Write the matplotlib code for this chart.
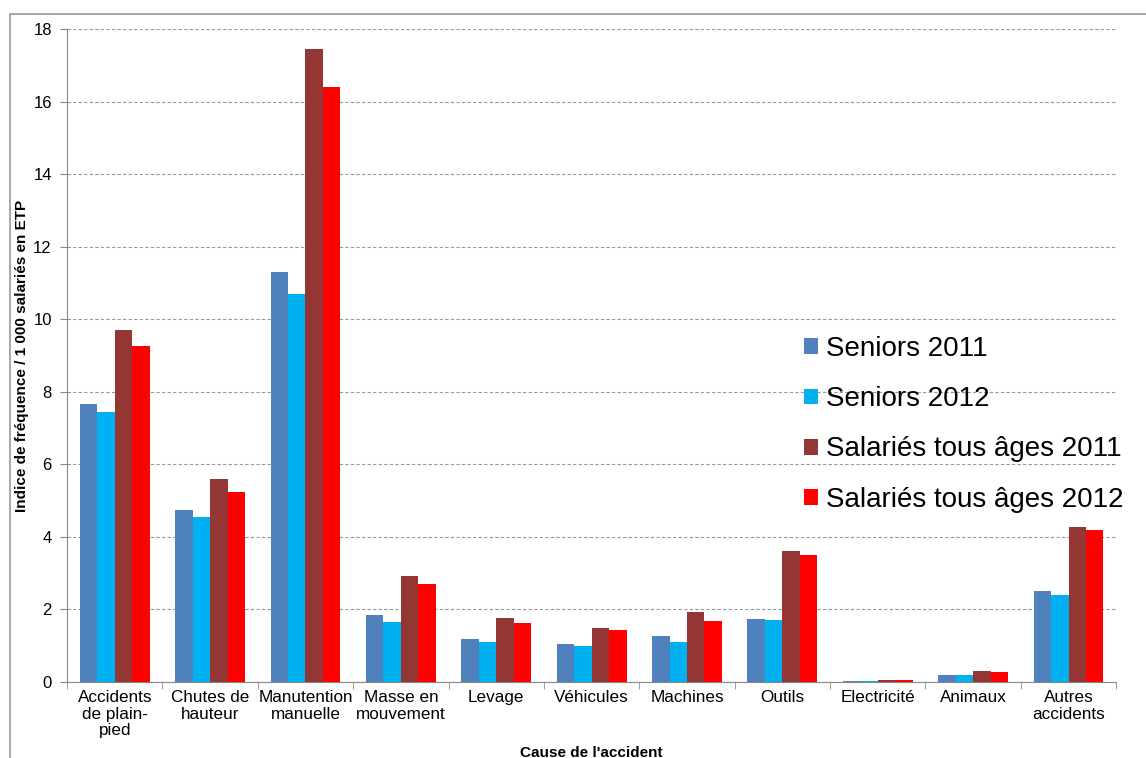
import numpy as np
import matplotlib
matplotlib.use("Agg")
import matplotlib.pyplot as plt
from matplotlib.patches import Rectangle

plt.rcParams["font.family"] = ["Liberation Sans", "DejaVu Sans"]

categories = ["Accidents\nde plain-\npied", "Chutes de\nhauteur", "Manutention\nmanuelle",
              "Masse en\nmouvement", "Levage", "Véhicules", "Machines", "Outils",
              "Electricité", "Animaux", "Autres\naccidents"]
series_names = ["Seniors 2011", "Seniors 2012", "Salariés tous âges 2011", "Salariés tous âges 2012"]
seniors_2011 = [7.65, 4.75, 11.3, 1.85, 1.18, 1.05, 1.27, 1.73, 0.02, 0.20, 2.50]
seniors_2012 = [7.45, 4.55, 10.7, 1.65, 1.10, 1.00, 1.10, 1.72, 0.02, 0.20, 2.40]
tous_2011 = [9.70, 5.60, 17.45, 2.93, 1.75, 1.50, 1.93, 3.62, 0.05, 0.29, 4.27]
tous_2012 = [9.27, 5.25, 16.40, 2.70, 1.62, 1.43, 1.67, 3.50, 0.05, 0.27, 4.18]
colors = ["#4F81BD", "#00B0F0", "#943634", "#FF0000"]

fig = plt.figure(figsize=(11.46, 7.58), dpi=100)
ax = fig.add_axes([0.0585, 0.1003, 0.9155, 0.8614])

x = np.arange(len(categories))
w = 0.183
for i, (vals, name, c) in enumerate(zip([seniors_2011, seniors_2012, tous_2011, tous_2012],
                                        series_names, colors)):
    ax.bar(x + (i - 1.5) * w, vals, w, color=c, label=name, zorder=3)

ax.set_xlim(-0.5, len(categories) - 0.5)
ax.set_ylim(0, 18)
ax.set_yticks(np.arange(0, 19, 2))
ax.yaxis.grid(True, linestyle=(0, (3, 2)), color="#999999", linewidth=0.8, zorder=0)
ax.set_axisbelow(True)

ax.set_xticks(x)
ax.set_xticklabels(categories, fontsize=12.3, linespacing=1.12)
ax.set_xticks(np.arange(-0.5, len(categories)), minor=True)
ax.tick_params(axis="x", which="major", length=0, pad=6)
ax.tick_params(axis="x", which="minor", length=5, color="#888888", direction="out")
ax.tick_params(axis="y", length=5, color="#888888", labelsize=12, pad=6)

for s in ["top", "right"]:
    ax.spines[s].set_visible(False)
for s in ["left", "bottom"]:
    ax.spines[s].set_color("#888888")

ax.set_ylabel("Indice de fréquence / 1 000 salariés en ETP", fontsize=11,
              fontweight="bold", va="center")
ax.yaxis.set_label_coords(-45 / 1049, 0.5)
fig.text(591 / 1146, 1 - 746 / 758, "Cause de l'accident", ha="center", va="top",
         fontsize=11, fontweight="bold")

ax.legend(loc="upper left", bbox_to_anchor=(0.692, 0.5467), frameon=False,
          fontsize=20, handlelength=0.5, handleheight=0.5, handletextpad=0.3,
          labelspacing=0.87, borderaxespad=0)

fig.patches.append(Rectangle((10 / 1146, -0.01), 1.2, 1 - 14 / 758 + 0.01,
                             transform=fig.transFigure, fill=False,
                             edgecolor="#999999", linewidth=1.2))

fig.savefig("out.png", dpi=100)
